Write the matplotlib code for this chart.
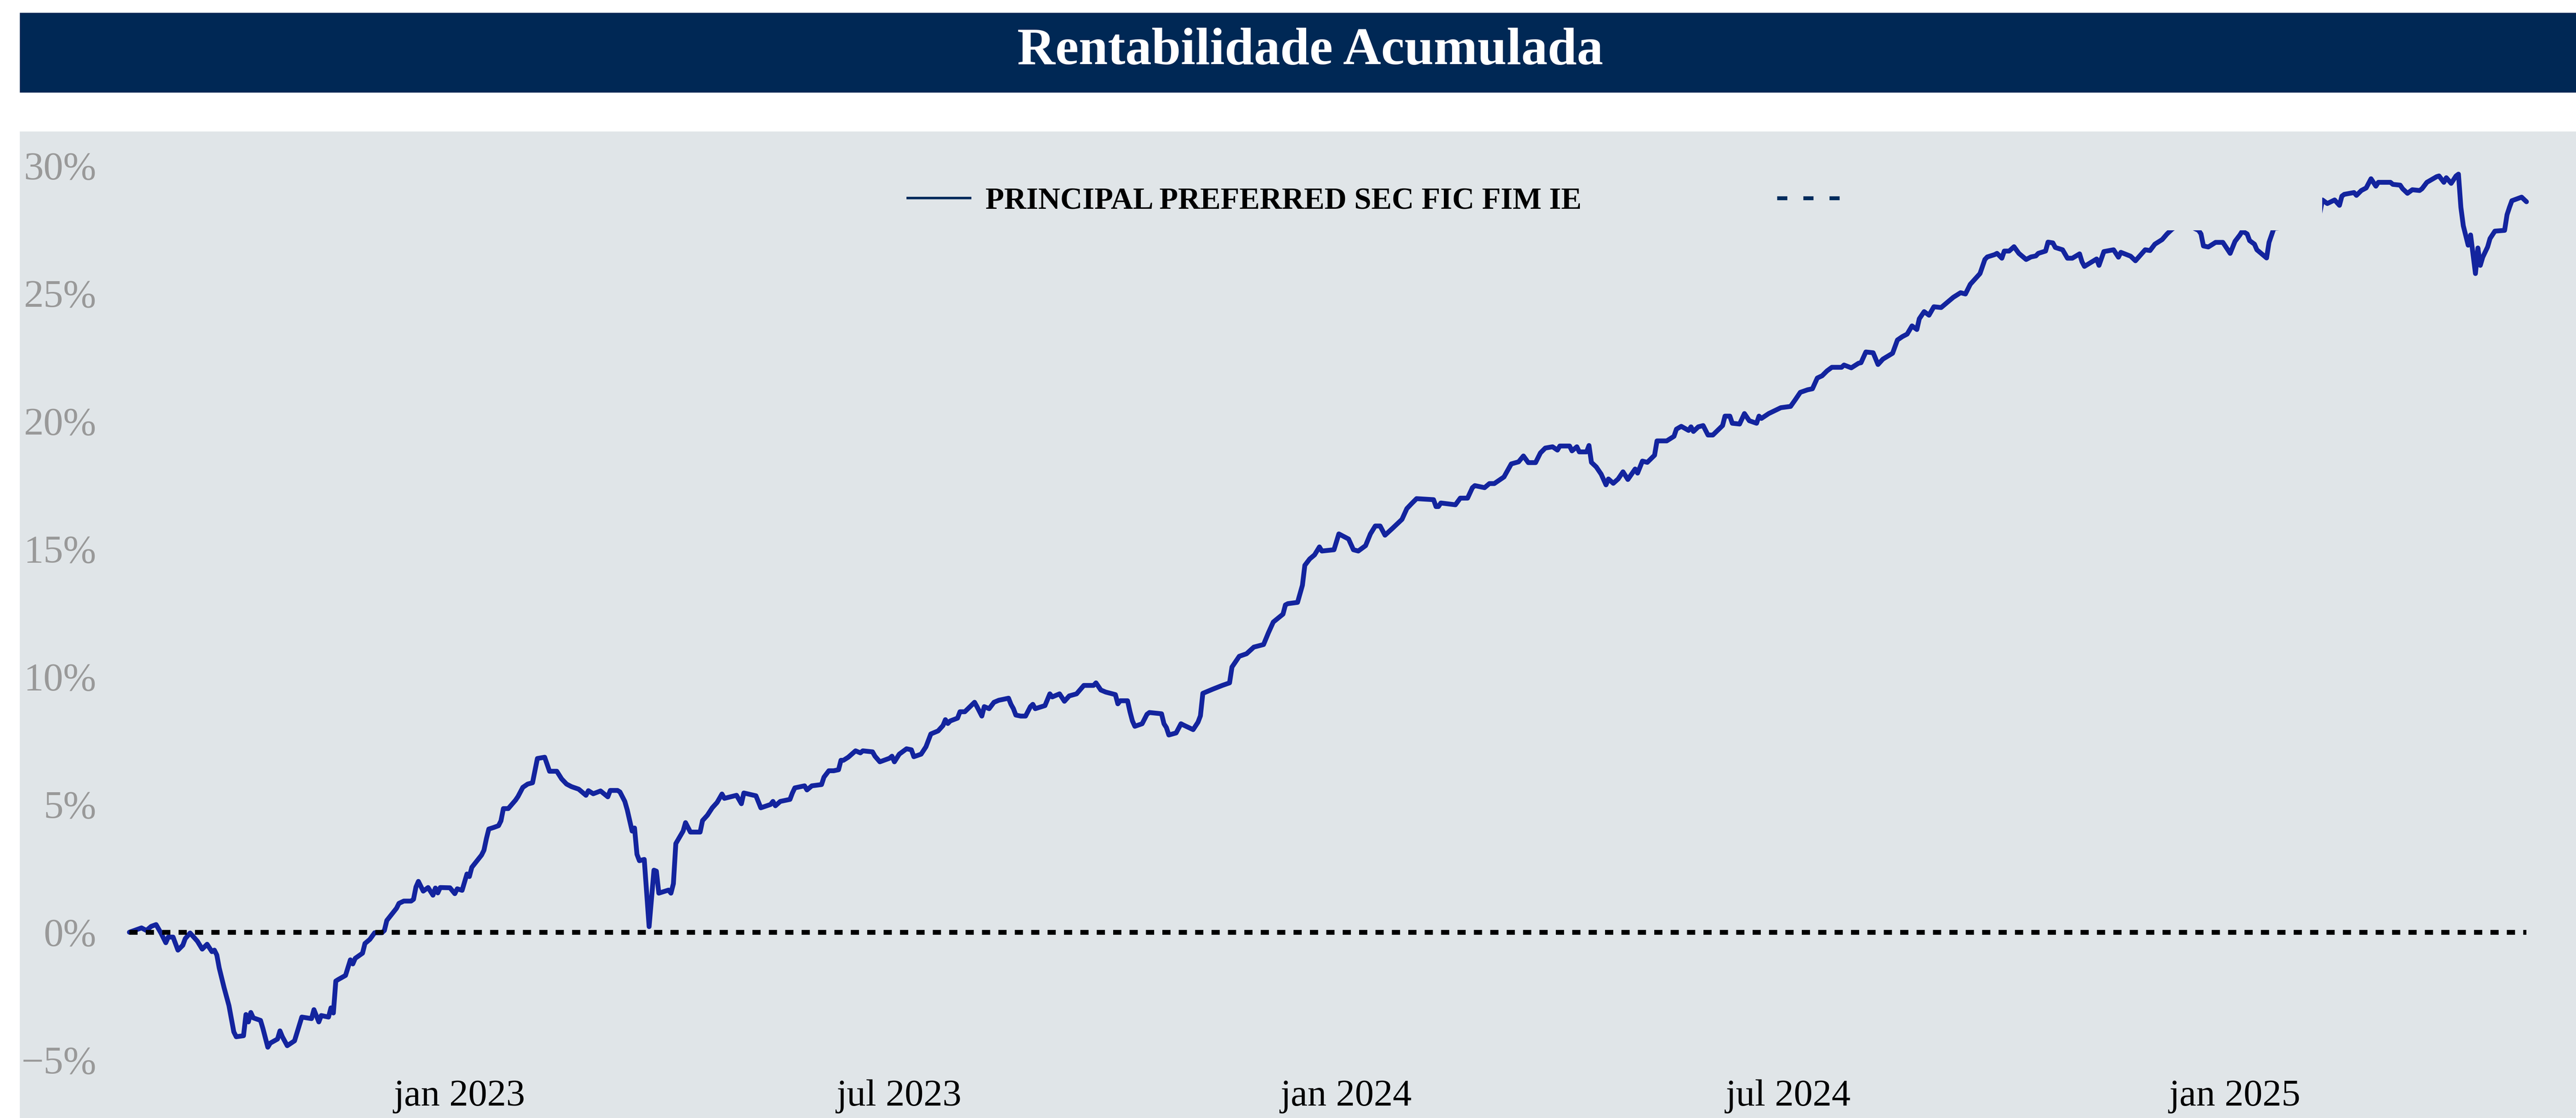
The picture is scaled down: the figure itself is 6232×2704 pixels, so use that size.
import numpy as np
import pandas as pd
import matplotlib
matplotlib.use("Agg")
import matplotlib.pyplot as plt
import matplotlib.dates as mdates
from matplotlib.patches import Rectangle
from matplotlib.lines import Line2D
from matplotlib.ticker import FuncFormatter, FixedLocator

plt.rcParams['font.family'] = ['Liberation Serif', 'DejaVu Serif']

# ---------------- data ----------------
title = "Rentabilidade Acumulada"
series_name = "PRINCIPAL PREFERRED SEC FIC FIM IE"
benchmark_name = ""
origin = "2023-01-01"   # day offsets below are counted from this date

days_a = [-136, -131, -129, -127, -125, -123, -121, -120, -118, -116, -114, -113, -111, -108, -106,
          -104, -102, -101, -100, -99, -97, -95, -93, -92, -89, -88, -87, -86, -85, -82, -81, -79,
          -78, -75, -74, -73, -71, -68, -65, -61, -60, -58, -57, -54, -53, -52, -51, -50, -47, -45,
          -44, -43, -40, -39, -37, -35, -32, -31, -30, -29, -26, -25, -23, -20, -19, -18, -17, -15,
          -13, -11, -10, -9, -8, -4, -2, -1, 1, 3, 4, 5, 9, 10, 11, 12, 14, 16, 17, 18]
ret_a = [0.00, 0.17, 0.07, 0.23, 0.30, -0.03, -0.41, -0.19, -0.19, -0.70, -0.51, -0.25, -0.03, -0.35, -0.66,
         -0.47, -0.76, -0.70, -0.89, -1.40, -2.17, -2.87, -3.90, -4.09, -4.05, -3.22, -3.51, -3.14, -3.35, -3.45, -3.77, -4.50,
         -4.34, -4.18, -3.86, -4.09, -4.44, -4.25, -3.32, -3.38, -3.03, -3.51, -3.26, -3.32, -2.96, -3.16, -1.91, -1.85, -1.69, -1.08,
         -1.24, -1.02, -0.82, -0.44, -0.28, -0.02, -0.02, 0.07, 0.46, 0.58, 0.94, 1.13, 1.22, 1.22, 1.29, 1.77, 1.99, 1.61,
         1.75, 1.45, 1.73, 1.54, 1.75, 1.74, 1.51, 1.70, 1.64, 2.28, 2.18, 2.54, 3.02, 3.21, 3.66, 4.04, 4.10, 4.17, 4.36, 4.84]

days_b = [20, 23, 24, 26, 28, 30, 32, 35, 37, 40, 42, 44, 46, 49, 52, 53, 55, 58, 61, 62,
          65, 66, 68, 69, 71, 72, 73, 74, 76, 78, 80, 81, 82, 86, 87, 88, 89, 92, 93, 95,
          99, 100, 102, 104, 106, 108, 109, 114, 116, 117, 122, 124, 128, 129, 130, 132, 136, 137, 138, 142,
          143, 145, 149, 150, 152, 154, 156, 157, 158, 160, 163, 165, 166, 170, 171, 173, 177, 178, 179, 181,
          184, 186, 187, 190, 192, 194, 197, 199, 200, 201, 202, 205, 206, 208, 212, 213, 215, 216, 218, 220,
          222, 226, 227, 228, 229, 231, 233, 235, 236, 237, 241, 243, 244, 247, 249, 251, 254, 257, 261]
ret_b = [4.84, 5.17, 5.31, 5.67, 5.80, 5.85, 6.80, 6.85, 6.30, 6.30, 6.00, 5.80, 5.70, 5.60, 5.36, 5.54, 5.42, 5.53, 5.30, 5.55,
         5.55, 5.49, 5.12, 4.79, 3.96, 4.08, 3.05, 2.80, 2.85, 0.22, 2.43, 2.39, 1.53, 1.65, 1.53, 1.90, 3.47, 3.96, 4.29, 3.92,
         3.92, 4.37, 4.58, 4.87, 5.08, 5.41, 5.24, 5.36, 5.03, 5.45, 5.34, 4.87, 5.00, 5.12, 4.95, 5.12, 5.20, 5.45, 5.65, 5.73,
         5.57, 5.73, 5.78, 6.07, 6.32, 6.32, 6.36, 6.73, 6.73, 6.85, 7.10, 7.02, 7.10, 7.06, 6.89, 6.67, 6.81, 6.89, 6.67, 6.97,
         7.18, 7.14, 6.87, 6.97, 7.26, 7.76, 7.88, 8.09, 8.32, 8.17, 8.27, 8.38, 8.63, 8.63, 9.00, 8.83, 8.46, 8.83, 8.75, 9.00,
         9.08, 9.16, 8.92, 8.75, 8.50, 8.46, 8.46, 8.83, 8.92, 8.75, 8.87, 9.33, 9.21, 9.33, 9.04, 9.25, 9.33, 9.66, 9.66]

days_c = [262, 264, 266, 268, 270, 271, 272, 275, 276, 277, 278, 281, 283, 284, 289, 290, 291, 292, 295, 297,
          298, 302, 304, 305, 306, 310, 314, 317, 318, 321, 324, 327, 331, 333, 335, 339, 340, 341, 345, 347,
          348, 350, 352, 354, 355, 360, 362, 366, 368, 370, 373, 375, 377, 379, 381, 384, 388, 390, 392, 394,
          401, 402, 403, 404, 410, 412, 415, 417, 418, 422, 424, 426, 430, 433, 436, 438, 440, 443, 445, 447,
          450, 452, 453, 457, 458, 460, 461, 464, 465]
ret_c = [9.76, 9.48, 9.40, 9.35, 9.30, 8.94, 9.06, 9.06, 8.63, 8.27, 8.06, 8.16, 8.53, 8.60, 8.55, 8.16, 8.01, 7.72, 7.80, 8.16,
         8.11, 7.93, 8.22, 8.47, 9.35, 9.51, 9.66, 9.76, 10.38, 10.80, 10.90, 11.16, 11.26, 11.72, 12.14, 12.45, 12.81, 12.86, 12.91, 13.58,
         14.36, 14.61, 14.77, 15.08, 14.92, 14.97, 15.59, 15.39, 14.97, 14.92, 15.13, 15.59, 15.90, 15.90, 15.54, 15.80, 16.16, 16.58, 16.78, 16.97,
         16.93, 16.66, 16.66, 16.80, 16.73, 16.99, 16.99, 17.40, 17.48, 17.40, 17.56, 17.56, 17.82, 18.33, 18.41, 18.64, 18.38, 18.38, 18.76, 18.95,
         19.00, 18.87, 19.03, 19.03, 18.84, 19.00, 18.80, 18.80, 19.05]

days_d = [466, 468, 470, 472, 473, 475, 477, 479, 481, 484, 485, 487, 489, 492, 493, 497, 500, 501, 503, 506,
          507, 508, 510, 512, 514, 516, 520, 521, 523, 524, 527, 529, 531, 534, 535, 536, 539, 544, 548, 550,
          552, 555, 557, 559, 561, 563, 565, 569, 570, 573, 576, 577, 579, 582, 584, 586, 590, 592, 594, 596,
          598, 600, 601, 603, 605, 607, 610, 615, 618, 620, 622, 626, 628, 629, 632, 633, 635, 636, 638, 640,
          642, 645, 647, 649, 650, 653, 654, 656, 657, 660, 662, 664, 667, 668, 669]
ret_d = [18.39, 18.21, 17.93, 17.51, 17.74, 17.57, 17.74, 18.02, 17.72, 18.13, 17.97, 18.44, 18.39, 18.67, 19.23, 19.23, 19.41, 19.69, 19.80, 19.64,
         19.78, 19.60, 19.78, 19.83, 19.46, 19.46, 19.83, 20.20, 20.20, 19.92, 19.89, 20.30, 20.02, 19.92, 20.20, 20.11, 20.30, 20.53, 20.58, 20.85,
         21.13, 21.23, 21.27, 21.69, 21.78, 21.97, 22.11, 22.11, 22.20, 22.09, 22.27, 22.29, 22.71, 22.68, 22.22, 22.43, 22.66, 23.18, 23.31, 23.41,
         23.73, 23.59, 24.01, 24.29, 24.15, 24.48, 24.45, 24.85, 25.03, 24.98, 25.36, 25.78, 26.33, 26.43, 26.52, 26.57, 26.38, 26.66, 26.66, 26.83,
         26.57, 26.33, 26.43, 26.47, 26.57, 26.66, 27.01, 26.98, 26.80, 26.71, 26.38, 26.38, 26.55, 26.24, 26.06]

days_e = [674, 675, 677, 681, 683, 684, 688, 690, 694, 696, 698, 701, 703, 705, 708, 712, 716, 717, 718, 720,
          723, 726, 729, 731, 733, 734, 736, 737, 739, 740, 744, 745, 747, 751, 755, 759, 763, 765, 767, 769,
          772, 774, 775, 776, 780, 781, 783, 785, 787, 789, 790, 795, 796, 799, 800, 802, 804, 807, 808, 810,
          814, 815, 817, 818, 820, 822, 823, 824, 825, 827, 828, 830, 831, 832, 833, 835, 836, 838, 842, 843,
          844, 845, 849, 851]
ret_e = [26.35, 26.10, 26.64, 26.71, 26.42, 26.61, 26.46, 26.28, 26.71, 26.68, 26.93, 27.11, 27.33, 27.51, 27.70, 27.65, 27.47, 27.33, 26.86, 26.82,
         27.00, 27.00, 26.57, 27.04, 27.29, 27.44, 27.33, 27.07, 26.93, 26.71, 26.39, 27.00, 27.55, 27.58, 27.80, 28.00, 27.90, 27.70, 28.66, 28.52,
         28.66, 28.45, 28.81, 28.88, 28.95, 28.84, 29.03, 29.13, 29.49, 29.20, 29.35, 29.35, 29.27, 29.24, 29.10, 28.92, 29.06, 29.03, 29.10, 29.35,
         29.57, 29.60, 29.35, 29.53, 29.31, 29.60, 29.67, 28.37, 27.65, 26.89, 27.29, 25.78, 26.78, 26.10, 26.42, 26.82, 27.15, 27.44, 27.47, 28.08,
         28.37, 28.63, 28.77, 28.59]

month_abbr_pt = ['jan', 'fev', 'mar', 'abr', 'mai', 'jun', 'jul', 'ago', 'set', 'out', 'nov', 'dez']
y_ticks = [-5, 0, 5, 10, 15, 20, 25, 30]

days = days_a + days_b + days_c + days_d + days_e
returns = ret_a + ret_b + ret_c + ret_d + ret_e
assert len(days) == len(returns), (len(days), len(returns))

# ---------------- figure ----------------
W, H = 6232, 2704
DPI = 200
BG = '#E0E5E8'
fig = plt.figure(figsize=(W / DPI, H / DPI), dpi=DPI, facecolor='white')

# title bar
fig.patches.append(Rectangle((48 / W, 1 - 224 / H), (W - 48) / W, (224 - 31) / H,
                             transform=fig.transFigure, facecolor='#002855', edgecolor='none', zorder=0))
fig.text(3170 / W, 1 - 155 / H, title, color='white', fontsize=45.8, fontweight='bold',
         ha='center', va='baseline')

ax = fig.add_axes([48 / W, 0, (W - 48) / W, (H - 318) / H])
ax.set_facecolor(BG)
for s in ax.spines.values():
    s.set_visible(False)

t0 = pd.Timestamp(origin)
x = t0 + pd.to_timedelta(days, unit='D')
ax.plot(x, returns, color='#13249E', lw=4.2, solid_joinstyle='round', solid_capstyle='round', zorder=2)
ax.hlines(0, x[0], x[-1], colors='black', linestyles=(0, (1.7, 1.7)), lw=4.2, zorder=2.5)

ax.set_xlim(t0 + pd.Timedelta(days=-181.1), t0 + pd.Timedelta(days=871.4))
ax.set_ylim(-7.27, 31.34)

ax.xaxis.set_major_locator(mdates.MonthLocator(bymonth=[1, 7]))
def fmt_date(v, pos):
    d = mdates.num2date(v)
    return f"{month_abbr_pt[d.month - 1]} {d.year}"
ax.xaxis.set_major_formatter(FuncFormatter(fmt_date))
ax.yaxis.set_major_locator(FixedLocator(y_ticks))
ax.yaxis.set_major_formatter(FuncFormatter(lambda v, p: f"{v:.0f}%".replace('-', '\u2212')))
ax.tick_params(axis='x', length=0, pad=-33.8, labelsize=33, labelcolor='black')
ax.tick_params(axis='y', length=0, pad=-66.6, labelsize=34.5, labelcolor='#999999')

# legend background (covers the line like the original legend box)
ax.add_patch(Rectangle((0.30, (H - 557) / (H - 318)), (5618 - 48) / (W - 48) - 0.30, 1,
                       transform=ax.transAxes, facecolor=BG, edgecolor='none', zorder=3))
handles = [Line2D([], [], color='#012B5C', lw=2.2),
           Line2D([], [], color='#012B5C', lw=3.4, linestyle=(0, (2.6, 4.1)))]
leg = ax.legend(handles, [series_name, benchmark_name], loc='center left',
                bbox_to_anchor=((2196 - 48) / (W - 48), (H - 487) / (H - 318)),
                ncol=2, frameon=False, prop={'weight': 'bold', 'size': 26.7},
                handlelength=2.04, handletextpad=0.5, columnspacing=6.37,
                borderpad=0, borderaxespad=0)
leg.set_zorder(5)

fig.savefig('out.png', dpi=DPI, facecolor='white')
